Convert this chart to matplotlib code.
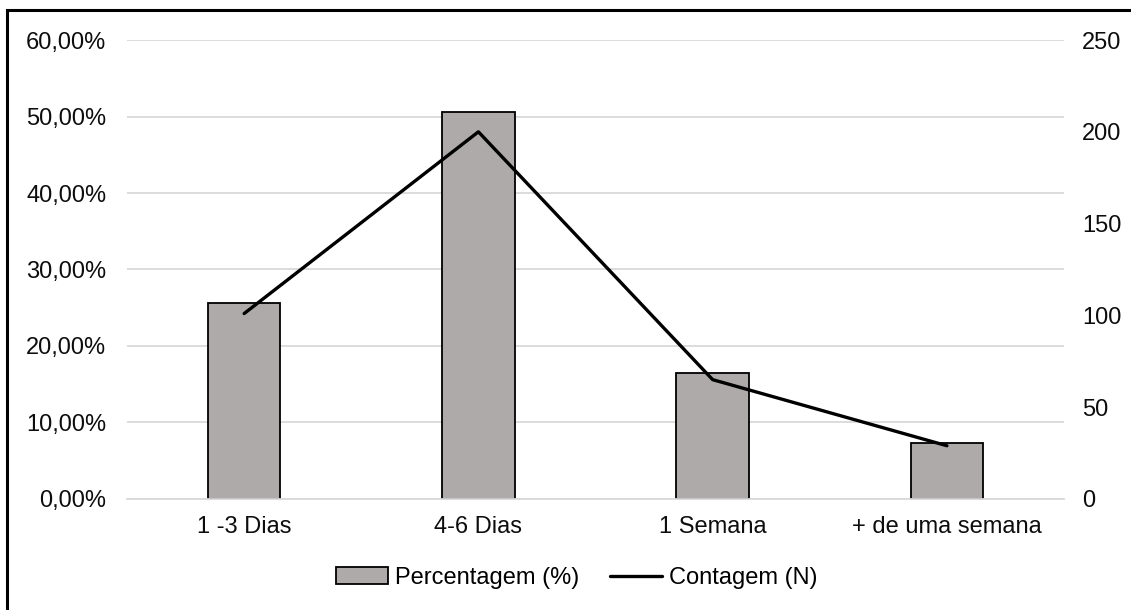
import matplotlib.pyplot as plt
from matplotlib.patches import Rectangle
from matplotlib.ticker import FuncFormatter

categorias = ['1 -3 Dias', '4-6 Dias', '1 Semana', '+ de uma semana']
contagem = [101, 200, 65, 29]
percentagem = [c / sum(contagem) * 100 for c in contagem]

plt.rcParams['font.family'] = ['Liberation Sans', 'DejaVu Sans']
plt.rcParams['font.size'] = 17

fig = plt.figure(figsize=(11.31, 6.10), dpi=100)
ax = fig.add_axes([0.1123, 0.182, 0.8285, 0.7524])
ax2 = ax.twinx()

x = range(len(categorias))
bars = ax.bar(x, percentagem, width=0.31, color='#AEAAAA', edgecolor='black',
              linewidth=1.3, label='Percentagem (%)', zorder=2)
line, = ax2.plot(x, contagem, color='black', linewidth=2.4,
                 solid_capstyle='round', label='Contagem (N)', zorder=3)

ax.set_xlim(-0.5, len(categorias) - 0.5)
ax.set_ylim(0, 60)
ax2.set_ylim(0, 250)
ax.set_yticks(range(0, 61, 10))
ax2.set_yticks(range(0, 251, 50))
ax.yaxis.set_major_formatter(FuncFormatter(lambda v, p: f'{v:.2f}%'.replace('.', ',')))
ax.set_xticks(list(x))
ax.set_xticklabels(categorias)

ax.grid(axis='y', color='#D9D9D9', linewidth=1.3, zorder=0)
ax.set_axisbelow(True)
for a in (ax, ax2):
    for s in a.spines.values():
        s.set_visible(False)
    a.tick_params(length=0, colors='#0d0d0d')
ax.spines['bottom'].set_visible(True)
ax.spines['bottom'].set_color('#D9D9D9')
ax.spines['bottom'].set_linewidth(1.3)
ax.tick_params(axis='y', pad=15)
ax.tick_params(axis='x', pad=12)
ax2.tick_params(axis='y', pad=13)

fig.legend(handles=[bars, line], loc='center', bbox_to_anchor=(0.51, 0.0525),
           ncol=2, frameon=False, handlelength=2.2, handletextpad=0.3,
           columnspacing=1.3, fontsize=17)

# moldura do gráfico
fig.patches.append(Rectangle((7 / 1131, -0.1), 1.2, 1.1 - 10 / 610,
                             transform=fig.transFigure, fill=False,
                             edgecolor='black', linewidth=2.2))

fig.savefig('out.png', dpi=100)
